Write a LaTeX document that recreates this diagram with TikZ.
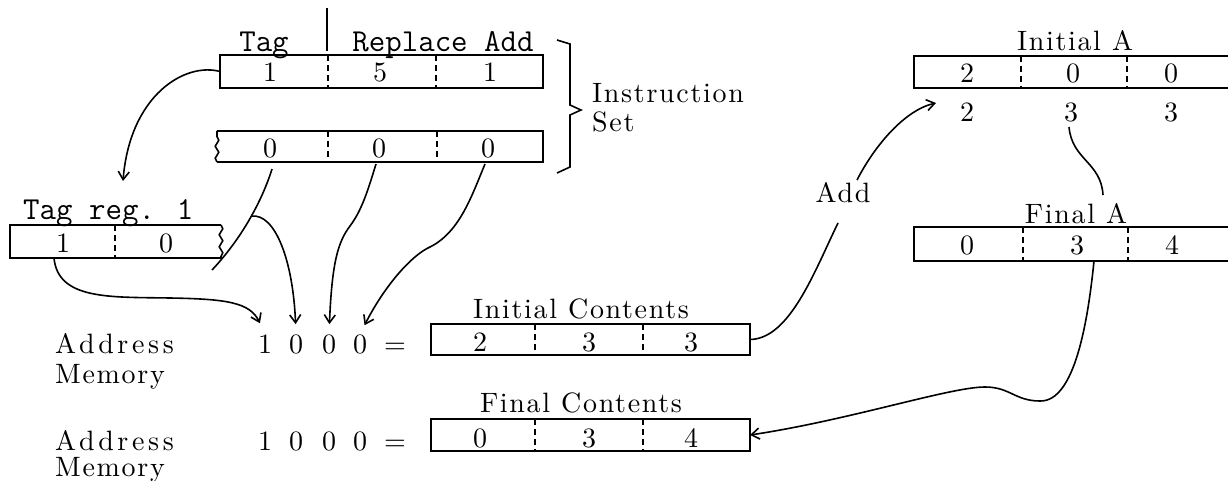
\documentclass[tikz,border=0pt]{standalone}
\usepackage{fontspec}
\newfontfamily\lmwide{lmroman10-regular}[Extension=.otf, LetterSpace=6]
\newfontfamily\lmwider{lmroman10-regular}[Extension=.otf, LetterSpace=13]
\newfontfamily\lmdig{lmroman10-regular}[Extension=.otf]
\usetikzlibrary{arrows.meta,calc,decorations.pathmorphing}
\tikzset{
  box/.style={draw, line width=1.8pt, inner sep=0pt, outer sep=0pt, minimum height=33pt},
  boxshape/.style={inner sep=0pt, outer sep=0pt},
  boxline/.style={line width=1.8pt},
  wavy/.style={line width=1.6pt, decorate, decoration={snake, amplitude=1.8pt, segment length=12pt}},
  div/.style={line width=1.6pt, dash pattern=on 6pt off 4pt},
  con/.style={line width=1.6pt},
  arr/.style={con, -{Straight Barb[length=8pt,width=11pt]}},
  lbl/.style={inner sep=0pt, anchor=base, font=\lmwide\fontsize{28}{34}\selectfont},
  lblw/.style={lbl, anchor=base west},
  adrlbl/.style={inner sep=0pt, anchor=base west, font=\lmwider\fontsize{28}{34}\selectfont},
  num/.style={inner sep=0pt, anchor=base, font=\lmdig\fontsize{28}{34}\selectfont},
  tt/.style={inner sep=0pt, anchor=base, font=\fontsize{32}{38}\selectfont\ttfamily},
}
\begin{document}
\begin{tikzpicture}[x=1pt,y=-1pt]
\path[use as bounding box, clip] (0,0) rectangle (1228,481);

% ---------- instruction word 1
\node[box, minimum width=323pt, minimum height=33pt] (b1) at (381.5,71.5) {};
\draw[div] ($(b1.north west)+(108,0)$) -- ($(b1.south west)+(108,0)$);
\draw[div] ($(b1.north west)+(216,0)$) -- ($(b1.south west)+(216,0)$);
\coordinate (vt) at (327,8);
\coordinate (vb) at (327,51);
\draw[con] (vt) -- (vb);
\node[tt] (tag) at (264,52) {Tag};
\node[tt] (repadd) at (443,52) {Replace Add};
\node[num] (i1) at (270,82) {1};
\node[num] (i2) at (380,82) {5};
\node[num] (i3) at (490,82) {1};

% ---------- instruction word 2 (truncated left)
\node[boxshape, minimum width=326pt, minimum height=31pt] (b2) at (380,146.5) {};
\draw[boxline] (b2.north west) -- (b2.north east) -- (b2.south east) -- (b2.south west);
\draw[wavy] (b2.south west) -- (b2.north west);
\draw[div] ($(b2.north west)+(111,0)$) -- ($(b2.south west)+(111,0)$);
\draw[div] ($(b2.north west)+(220,0)$) -- ($(b2.south west)+(220,0)$);
\node[num] (z1) at (270,158) {0};
\node[num] (z2) at (379,158) {0};
\node[num] (z3) at (488,158) {0};

% ---------- bracket and label
\coordinate (k1) at (557,40);
\coordinate (k2) at (570,44);
\coordinate (k3) at (570,105);
\coordinate (k4) at (581,110);
\coordinate (k5) at (570,115);
\coordinate (k6) at (570,167);
\coordinate (k7) at (557,173);
\draw[con] (k1) -- (k2) -- (k3) -- (k4) -- (k5) -- (k6) -- (k7);
\node[lblw] (instr) at (592,103) {Instruction};
\node[lblw] (set) at (592,132) {Set};

% ---------- tag register (truncated right)
\node[boxshape, minimum width=211pt, minimum height=33pt] (tr) at (115.5,241.5) {};
\draw[boxline] (tr.north east) -- (tr.north west) -- (tr.south west) -- (tr.south east);
\draw[wavy] (tr.north east) -- (tr.south east);
\draw[div] ($(tr.north west)+(105,0)$) -- ($(tr.south west)+(105,0)$);
\node[tt, anchor=base west] (treg) at (23,219) {Tag reg. 1};
\node[num] (t1) at (63,252) {1};
\node[num] (t2) at (166,252) {0};

% ---------- Initial A (open to the right)
\node[lbl] (iaL) at (1075,51) {Initial A};
\node[box, minimum width=330pt, minimum height=32pt] (ia) at (1079,72) {};
\draw[div] ($(ia.north west)+(107,0)$) -- ($(ia.south west)+(107,0)$);
\draw[div] ($(ia.north west)+(213,0)$) -- ($(ia.south west)+(213,0)$);
\node[num] (ia1) at (967,83) {2};
\node[num] (ia2) at (1073,83) {0};
\node[num] (ia3) at (1171,83) {0};
\node[num] (r1) at (967,122) {2};
\node[num] (r2) at (1071,122) {3};
\node[num] (r3) at (1171,122) {3};

% ---------- Final A
\node[lbl] (faL) at (1076,223) {Final A};
\node[box, minimum width=330pt, minimum height=34pt] (fa) at (1079,244) {};
\draw[div] ($(fa.north west)+(109,0)$) -- ($(fa.south west)+(109,0)$);
\draw[div] ($(fa.north west)+(214,0)$) -- ($(fa.south west)+(214,0)$);
\node[num] (fa1) at (967,254) {0};
\node[num] (fa2) at (1077,254) {3};
\node[num] (fa3) at (1172,254) {4};

\node[lbl] (add) at (843,202) {Add};

% ---------- memory rows
\node[lbl] (icL) at (581,318) {Initial Contents};
\node[box, minimum width=319pt, minimum height=31pt] (ic) at (590.5,339.5) {};
\draw[div] ($(ic.north west)+(104,0)$) -- ($(ic.south west)+(104,0)$);
\draw[div] ($(ic.north west)+(212,0)$) -- ($(ic.south west)+(212,0)$);
\node[num] (ic1) at (480,351) {2};
\node[num] (ic2) at (589,351) {3};
\node[num] (ic3) at (691,351) {3};

\node[lbl] (fcL) at (581,412) {Final Contents};
\node[box, minimum width=319pt, minimum height=32pt] (fc) at (590.5,435) {};
\draw[div] ($(fc.north west)+(104,0)$) -- ($(fc.south west)+(104,0)$);
\draw[div] ($(fc.north west)+(212,0)$) -- ($(fc.south west)+(212,0)$);
\node[num] (fc1) at (480,447) {0};
\node[num] (fc2) at (589,447) {3};
\node[num] (fc3) at (691,447) {4};

\node[adrlbl] (adr1) at (55,353) {Address};
\node[lblw] (mem1) at (55,383) {Memory};
\node[num] (a1) at (265,353) {1};
\node[num] (a2) at (296,353) {0};
\node[num] (a3) at (329,353) {0};
\node[num] (a4) at (360,353) {0};
\node[num] (eq1) at (395,353) {=};

\node[adrlbl] (adr2) at (55,450) {Address};
\node[lblw] (mem2) at (55,476) {Memory};
\node[num] (c1) at (265,450) {1};
\node[num] (c2) at (296,450) {0};
\node[num] (c3) at (329,450) {0};
\node[num] (c4) at (360,450) {0};
\node[num] (eq2) at (395,450) {=};

% ---------- connectors
\coordinate (trtip) at (123,181);
\draw[arr] (b1.west) .. controls (185,62) and (130,95) .. (trtip);

\coordinate (l1a) at (272,169);
\coordinate (l1b) at (212,270);
\draw[con] (l1a) .. controls (264,195) and (245,235) .. (l1b) coordinate[pos=.5] (br);
\draw[arr, shorten >=10pt] (br) .. controls (275,213) and (293,260) .. (a2.north);

\coordinate (tr1) at ($(tr.south west)+(44,0)$);
\draw[arr, shorten >=12pt] (tr1) .. controls (58,300) and (110,297) .. (170,298)
   .. controls (225,299) and (250,302) .. (a1.north);

\coordinate (l2a) at (376,164);
\draw[arr, shorten >=10pt] (l2a) .. controls (368,190) and (362,210) .. (350,226)
   .. controls (338,242) and (332,262) .. (a3.north);

\coordinate (l3a) at (485,164);
\draw[arr, shorten >=10pt] (l3a) .. controls (472,195) and (460,232) .. (430,247)
   .. controls (412,255) and (385,285) .. (a4.north);

\coordinate (addb) at (838,223);
\coordinate (addt) at (857,180);
\coordinate (r1tip) at (936,103);
\draw[con] (ic.east) .. controls (790,339) and (815,270) .. (addb);
\draw[arr] (addt) .. controls (875,145) and (905,110) .. (r1tip);

\coordinate (r2a) at (1069,127);
\coordinate (faLt) at (1103,195);
\draw[con] (r2a) .. controls (1072,160) and (1101,162) .. (faLt);

\coordinate (fab) at ($(fa.south west)+(180,0)$);
\draw[arr] (fab) .. controls (1088,320) and (1075,402) .. (1040,401)
   .. controls (1015,401) and (1010,387) .. (985,387)
   .. controls (950,387) and (850,420) .. (fc.east);
\end{tikzpicture}
\end{document}
